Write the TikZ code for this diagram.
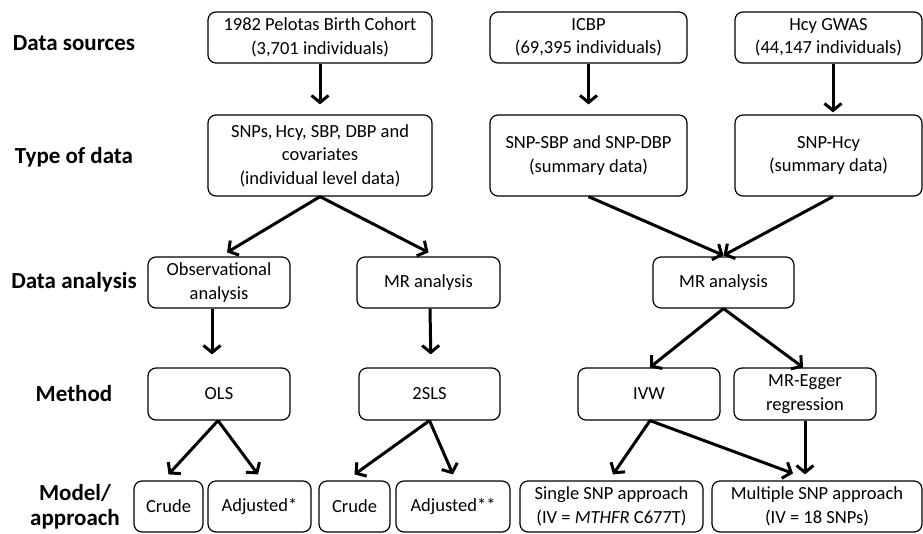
\documentclass[tikz,border=0pt]{standalone}
\usepackage{fontspec}
\setmainfont{Carlito}
\usetikzlibrary{arrows.meta}
\tikzset{
  box/.style={draw, line width=1.2pt, rounded corners=8pt, align=center,
    font=\fontsize{18.5}{23.5}\selectfont, inner sep=0pt},
  lab/.style={font=\bfseries\fontsize{23}{28}\selectfont, align=center, inner sep=0pt},
  arr/.style={-{Straight Barb[length=7pt,width=17pt]}, line width=3pt},
}
\begin{document}
\begin{tikzpicture}[x=1pt,y=-1pt]
\useasboundingbox (0,0) rectangle (923,533);
% labels
\node[lab] (l1) at (74,43) {Data sources};
\node[lab] (l2) at (74,157) {Type of data};
\node[lab] (l3) at (74,282) {Data analysis};
\node[lab] (l4) at (74,394) {Method};
\node[lab, anchor=north, font=\bfseries\fontsize{23}{25.5}\selectfont] (l5) at (75,484) {Model/\\approach};
% row 1
\node[box, minimum width=224pt, minimum height=51pt] (pel) at (320,37.5) {1982 Pelotas Birth Cohort\\(3,701 individuals)};
\node[box, minimum width=197pt, minimum height=51pt] (icbp) at (588.5,37.5) {ICBP\\(69,395 individuals)};
\node[box, minimum width=187pt, minimum height=51pt] (hcy) at (828.5,37.5) {Hcy GWAS\\(44,147 individuals)};
% row 2
\node[box, minimum width=224pt, minimum height=81pt] (type) at (320,155.5) {SNPs,\,Hcy, SBP, DBP and\\covariates\\(individual level data)};
\node[box, minimum width=197pt, minimum height=81pt] (sbp) at (588.5,155.5) {SNP-SBP and SNP-DBP\\(summary data)};
\node[box, minimum width=187pt, minimum height=81pt] (shcy) at (828.5,155.5) {SNP-Hcy\\(summary data)};
% row 3
\node[box, minimum width=142pt, minimum height=51pt] (obs) at (219,282.5) {Observational\\analysis};
\node[box, minimum width=143pt, minimum height=51pt] (mrl) at (428.5,282.5) {MR analysis};
\node[box, minimum width=141pt, minimum height=51pt] (mrr) at (723.5,282.5) {MR analysis};
% row 4
\node[box, minimum width=142pt, minimum height=52pt] (ols) at (219,394) {OLS};
\node[box, minimum width=141pt, minimum height=52pt] (tsls) at (429.5,394) {2SLS};
\node[box, minimum width=142pt, minimum height=52pt] (ivw) at (649,394) {IVW};
\node[box, minimum width=142pt, minimum height=52pt] (egger) at (805,394) {MR-Egger\\regression};
% row 5
\node[box, minimum width=69pt, minimum height=51pt] (cr1) at (168.5,506.5) {Crude};
\node[box, minimum width=103pt, minimum height=51pt] (ad1) at (259.5,506.5) {Adjusted*};
\node[box, minimum width=71pt, minimum height=51pt] (cr2) at (354.5,506.5) {Crude};
\node[box, minimum width=114pt, minimum height=51pt] (ad2) at (453,506.5) {Adjusted**};
\node[box, minimum width=183pt, minimum height=51pt] (single) at (611.5,506.5) {Single SNP approach\\(IV = \textit{MTHFR} C677T)};
\node[box, minimum width=210pt, minimum height=51pt] (multi) at (817,506.5) {Multiple SNP approach\\(IV = 18 SNPs)};
% arrows
\draw[arr, shorten >=10pt] (pel.south) -- (type.north);
\draw[arr, shorten >=10pt] (icbp.south) -- (sbp.north);
\draw[arr, shorten >=2pt] ([xshift=4.5pt]hcy.south) -- ([xshift=4.5pt]shcy.north);
\draw[arr] (type.south) -- ([xshift=8pt,yshift=4pt]obs.north);
\draw[arr] (type.south) -- ([yshift=4pt]mrl.north);
\draw[arr] (sbp.south) -- ([yshift=1pt]mrr.north);
\draw[arr] ([xshift=4.5pt]shcy.south) -- ([yshift=1pt]mrr.north);
\draw[arr, shorten >=13pt] ([xshift=-7pt]obs.south) -- ([xshift=-7pt]ols.north);
\draw[arr, shorten >=13pt] ([xshift=1.5pt]mrl.south) -- ([xshift=1.5pt]tsls.north);
\draw[arr] (mrr.south) -- ([xshift=1pt]ivw.north);
\draw[arr] (mrr.south) -- ([xshift=-2pt]egger.north);
\draw[arr] ([xshift=-1pt]ols.south) -- ([yshift=6pt]cr1.north);
\draw[arr] ([xshift=-1pt]ols.south) -- ([xshift=-1.5pt,yshift=6pt]ad1.north);
\draw[arr] (tsls.south) -- ([yshift=6pt]cr2.north);
\draw[arr] (tsls.south) -- ([yshift=6pt]ad2.north);
\draw[arr] ([xshift=1pt]ivw.south) -- ([xshift=1.5pt,yshift=6pt]single.north);
\draw[arr] ([xshift=1pt]ivw.south) -- ([xshift=-24pt,yshift=7pt]multi.north);
\draw[arr] (egger.south) -- ([xshift=-12pt,yshift=6pt]multi.north);
\end{tikzpicture}
\end{document}
